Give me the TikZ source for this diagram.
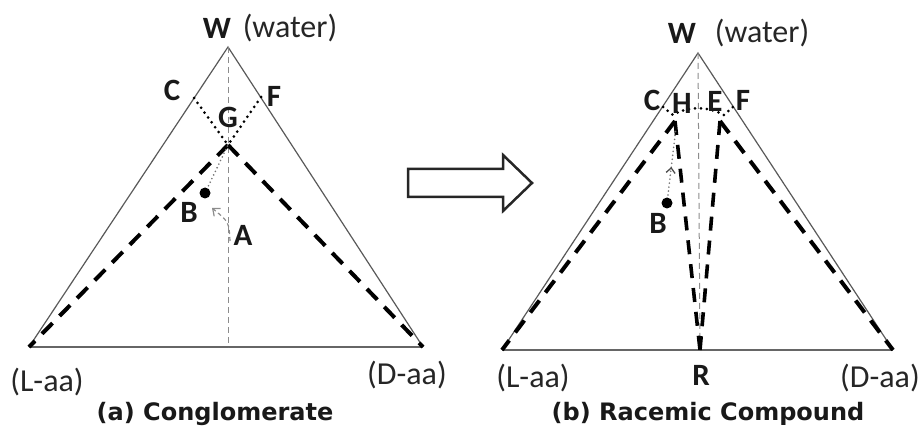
\documentclass[tikz,border=0pt]{standalone}
\usepackage{fontspec}
\setmainfont{Carlito}
\newfontfamily\capfont{DejaVu Sans}
\usetikzlibrary{arrows.meta,decorations.markings}
\begin{document}
\begin{tikzpicture}[x=1pt,y=-1pt,
 side/.style={draw=black!65, line width=1.2pt},
 baseline/.style={draw=black!60, line width=1.8pt},
 axis/.style={draw=black!45, line width=1pt, dash pattern=on 6pt off 4pt},
 bigdash/.style={draw=black, line width=4pt, dash pattern=on 15pt off 10pt},
 innerdash/.style={draw=black, line width=3.6pt, dash pattern=on 14pt off 10pt},
 dots/.style={draw=black, line width=3pt, line cap=round, dash pattern=on 0pt off 6pt},
 thindots/.style={draw=black!55, line width=1.8pt, line cap=round, dash pattern=on 0pt off 4pt},
 lab/.style={font=\fontsize{31}{33}\selectfont\bfseries, text=black!90, inner sep=0pt},
 note/.style={font=\fontsize{32}{34}\selectfont, text=black!85, inner sep=0pt},
 capt/.style={font=\capfont\fontsize{24}{26}\selectfont\bfseries, text=black!90, inner sep=0pt}]
\useasboundingbox (0,0) rectangle (920,430);

% ---------- left panel (a) ----------
\coordinate (W1) at (228,47);
\coordinate (L1) at (29,347);
\coordinate (D1) at (423,347);
\coordinate (M1) at (228,347);
\coordinate (C1) at (194,98);
\coordinate (F1) at (261,97);
\coordinate (G1) at (228,145);
\coordinate (B1) at (205,193);
\coordinate (A1) at (230,241);
\coordinate (T1) at (212,208);

\draw[side] (L1) -- (W1) -- (D1);
\draw[baseline] (L1) -- (D1);
\draw[axis] (W1) -- (M1);
\draw[dots] (C1) -- (G1);
\draw[dots] (F1) -- (G1);
\draw[bigdash] (G1) -- (L1);
\draw[bigdash] (G1) -- (D1);
\draw[thindots] (B1) -- (G1);
\fill[black] (B1) circle (5.5pt);
\draw[draw=black!45, line width=1.2pt, dash pattern=on 4pt off 3pt, -{Straight Barb[length=6pt,width=10pt]}]
  (A1) .. controls (229,222) .. (T1);

\node[lab]  (tW1) at (217,28) {W};
\node[note] (tw1) at (290,28) {(water)};
\node[lab]  (tC1) at (172,90) {C};
\node[lab]  (tF1) at (274,96) {F};
\node[lab]  (tG1) at (228,117) {G};
\node[lab]  (tB1) at (189,212) {B};
\node[lab]  (tA1) at (243,235) {A};
\node[note] (tL1) at (47,382) {(L-aa)};
\node[note] (tD1) at (407,375) {(D-aa)};
\node[capt] (cap1) at (215,414) {(a) Conglomerate};

% ---------- block arrow ----------
\draw[line width=2.5pt, black!85, line join=miter]
  (408,169) -- (503,169) -- (503,155) -- (532,183) -- (503,211) -- (503,197) -- (408,197) -- cycle;

% ---------- right panel (b) ----------
\coordinate (W2) at (698,53);
\coordinate (L2) at (502,350);
\coordinate (D2) at (893,350);
\coordinate (R2) at (700,350);
\coordinate (C2) at (663,107);
\coordinate (F2) at (733,107);
\coordinate (Hd) at (673,115);
\coordinate (Ed) at (724,115);
\coordinate (H2) at (675,121);
\coordinate (E2) at (720,121);
\coordinate (B2) at (667,203);
\coordinate (Ht) at (676,128);

\draw[side] (L2) -- (W2) -- (D2);
\draw[baseline] (L2) -- (D2);
\draw[axis] (W2) -- (R2);
\draw[dots] (C2) -- (Hd) .. controls (688,106) and (708,106) .. (Ed) -- (F2);
\draw[bigdash] (H2) -- (L2);
\draw[bigdash] (E2) -- (D2);
\draw[innerdash] (H2) -- (R2);
\draw[innerdash] (E2) -- (R2);
\draw[thindots, postaction={decorate},
  decoration={markings, mark=at position 0.48 with {\arrow[black!70, line width=1.3pt]{Straight Barb[length=5pt,width=9pt]}}}]
  (B2) -- (Ht);
\fill[black] (B2) circle (5.5pt);

\node[lab]  (tW2) at (682,33) {W};
\node[note] (tw2) at (762,33) {(water)};
\node[lab]  (tC2) at (652,100) {C};
\node[lab]  (tH2) at (682,103) {H};
\node[lab]  (tE2) at (715,101) {E};
\node[lab]  (tF2) at (743,100) {F};
\node[lab]  (tB2) at (658,223) {B};
\node[lab]  (tR2) at (701,375) {R};
\node[note] (tL2) at (533,378) {(L-aa)};
\node[note] (tD2) at (880,378) {(D-aa)};
\node[capt] (cap2) at (708,414) {(b) Racemic Compound};
\end{tikzpicture}
\end{document}
